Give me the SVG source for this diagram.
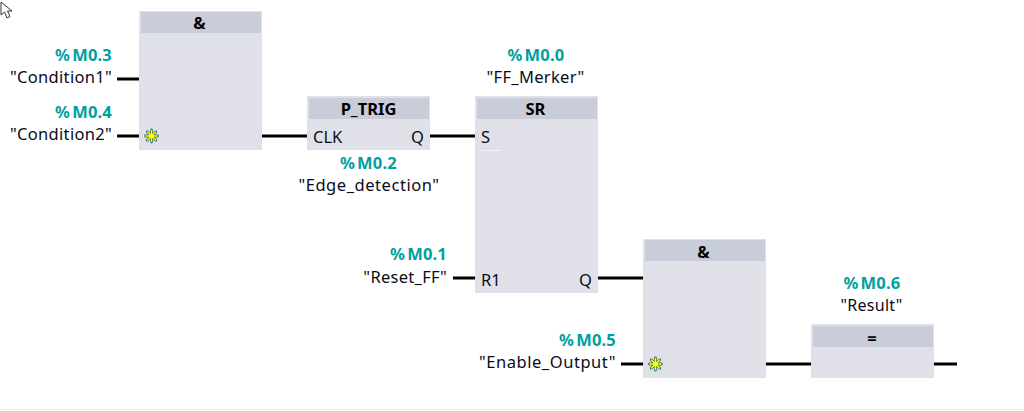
<svg xmlns="http://www.w3.org/2000/svg" width="1024" height="411" viewBox="0 0 1024 411">
<style>
text{font-family:"Noto Sans","Open Sans","Liberation Sans",sans-serif}
.b{fill:#dfe0e8}
.h{fill:#c9ccd9}
.a{font-size:16.5px;font-weight:700;fill:#00a0a0;letter-spacing:.2px}
.s{font-size:16.5px;fill:#0b0b1a;letter-spacing:.55px}
.n{letter-spacing:.3px}
.t{font-size:16.5px;font-weight:700;fill:#000;text-anchor:middle}
.p{font-size:16.5px;fill:#0b0b1a}
.r{text-anchor:end}
.m{text-anchor:middle}
.w{fill:none;stroke:#000;stroke-width:3}
.y{stroke:#3f6f68;stroke-width:2.8;stroke-linecap:round}
.z{stroke:#ffff00;stroke-width:1.4;stroke-linecap:round}
</style>
<defs>
<g id="star">
<path class="y" d="M-6 0H6M0-6V6M-4.300-4.300L4.300 4.300M-4.300 4.300L4.300-4.300"/>
<path class="z" d="M-5.500 0H5.500M0-5.500V5.500M-4-4L4 4M-4 4L4-4"/>
<circle r="2.400" fill="#ffff00"/>
</g>
</defs>
<rect width="1024" height="411" fill="#fff"/>
<path d="M0 409.500H1024" stroke="#ededed" stroke-width="1"/>
<path id="cursor" d="M1 2V15L4.500 12L7 18L10 16.500L7.500 11H12Z" fill="#fff" stroke="#333" stroke-width="1"/>
<g id="connectors">
<path class="w" d="M117 79H139M117 136H139M262 136H307M430 136H476M453 278H476M598 278H644M621 364H644M766 364H812M934 364H957"/>
</g>
<g id="and1">
<rect class="b" x="139" y="11" width="123" height="139"/>
<rect class="h" x="141" y="12" width="120" height="21"/>
<text class="t" x="199.500" y="29">&amp;</text>
<use href="#star" x="151.500" y="136"/>
</g>
<g id="ptrig">
<rect class="b" x="307" y="96" width="123" height="54"/>
<rect class="h" x="309" y="98" width="120" height="21"/>
<text class="t" x="368.500" y="115">P_TRIG</text>
<text class="p" x="313" y="143">CLK</text>
<text class="p r" x="424" y="143">Q</text>
</g>
<g id="sr">
<rect class="b" x="475" y="96" width="123" height="197"/>
<rect class="h" x="477" y="98" width="120" height="21"/>
<text class="t" x="535.500" y="115">SR</text>
<text class="p" x="481" y="143">S</text>
<path d="M481 150.500H501" stroke="#f4f4f8" stroke-width="1"/>
<text class="p" x="481" y="286">R1</text>
<text class="p r" x="592" y="286">Q</text>
</g>
<g id="and2">
<rect class="b" x="643" y="239" width="123" height="139"/>
<rect class="h" x="645" y="240" width="120" height="21"/>
<text class="t" x="703.500" y="258">&amp;</text>
<use href="#star" x="655.500" y="364"/>
</g>
<g id="coil">
<rect class="b" x="811" y="324" width="123" height="54"/>
<rect class="h" x="813" y="326" width="120" height="21"/>
<text class="t" x="872" y="344">=</text>
</g>
<g id="label-m03"><text class="a r" x="112" y="61">%<tspan dx="2">M0.3</tspan></text><text class="s n r" x="112" y="83">"Condition1"</text></g>
<g id="label-m04"><text class="a r" x="112" y="118">%<tspan dx="2">M0.4</tspan></text><text class="s n r" x="112" y="140">"Condition2"</text></g>
<g id="label-m02"><text class="a m" x="368.500" y="169">%<tspan dx="2">M0.2</tspan></text><text class="s m" x="369" y="191">"Edge_detection"</text></g>
<g id="label-m00"><text class="a m" x="536" y="61">%<tspan dx="2">M0.0</tspan></text><text class="s n m" x="535.500" y="83">"FF_Merker"</text></g>
<g id="label-m01"><text class="a r" x="447" y="260">%<tspan dx="2">M0.1</tspan></text><text class="s n r" x="447" y="283">"Reset_FF"</text></g>
<g id="label-m05"><text class="a r" x="616" y="346">%<tspan dx="2">M0.5</tspan></text><text class="s r" x="616" y="368">"Enable_Output"</text></g>
<g id="label-m06"><text class="a m" x="872" y="289">%<tspan dx="2">M0.6</tspan></text><text class="s n m" x="871.500" y="311" style="font-size:16px">"Result"</text></g>
</svg>
